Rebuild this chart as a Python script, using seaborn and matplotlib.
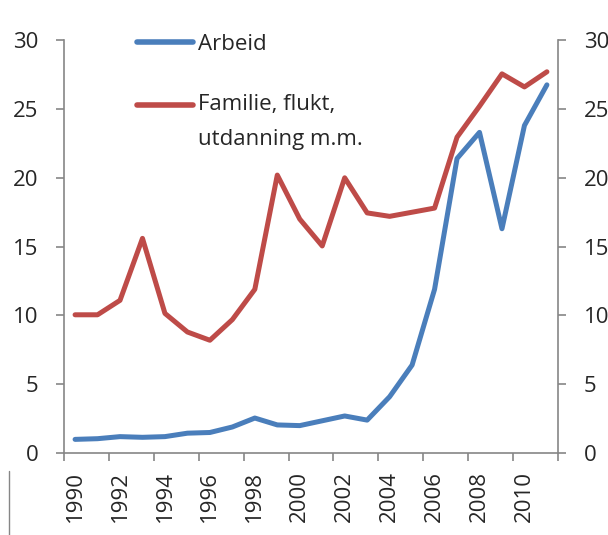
import matplotlib
matplotlib.use('Agg')
import matplotlib.pyplot as plt
import matplotlib.lines as mlines
import pandas as pd
import seaborn as sns

years = list(range(1990, 2012))
arbeid = [1.0, 1.05, 1.2, 1.15, 1.2, 1.45, 1.5, 1.9, 2.55, 2.05, 2.0, 2.35,
          2.7, 2.4, 4.1, 6.4, 11.9, 21.4, 23.3, 16.3, 23.8, 26.75]
familie = [10.05, 10.05, 11.1, 15.6, 10.15, 8.8, 8.2, 9.7, 11.9, 20.2, 17.0, 15.05,
           20.0, 17.45, 17.2, 17.5, 17.8, 22.95, 25.2, 27.55, 26.6, 27.7]
labels = ['Arbeid', 'Familie, flukt,\nutdanning m.m.']
yticks = [0, 5, 10, 15, 20, 25, 30]

df = pd.DataFrame({'year': years, labels[0]: arbeid, labels[1]: familie})

sns.set_style('white')
plt.rcParams['font.family'] = ['Open Sans', 'DejaVu Sans']

fig = plt.figure(figsize=(6.08, 5.35), dpi=100)
ax = fig.add_axes([0.105, 0.153, 0.813, 0.772])

sns.lineplot(data=df, x='year', y=labels[0], color='#4A7EBB', linewidth=3.6, ax=ax, label=labels[0])
sns.lineplot(data=df, x='year', y=labels[1], color='#BE4B48', linewidth=3.6, ax=ax, label=labels[1])

ax.set_xlim(1989.5, 2011.5)
ax.set_ylim(0, 30)
ax.set_xlabel('')
ax.set_ylabel('')
ax.set_yticks(yticks)
ax.set_xticks(years[::2])
ax.set_xticklabels([str(y) for y in years[::2]], rotation=90)
ax.set_xticks([y - 0.5 for y in years[::2]] + [2011.5], minor=True)
ax.tick_params(axis='x', which='major', length=0, pad=13, labelsize=16)
ax.tick_params(axis='x', which='minor', length=6, width=1.2, color='#868686', direction='out', bottom=True)
ax.tick_params(axis='y', length=5.5, width=1.2, color='#868686', direction='out', left=True, labelsize=16, pad=13)

for s in ['top', 'right']:
    ax.spines[s].set_visible(False)
for s in ['left', 'bottom']:
    ax.spines[s].set_color('#868686')
    ax.spines[s].set_linewidth(1.2)

ax2 = ax.twinx()
ax2.set_ylim(0, 30)
ax2.set_yticks(yticks)
ax2.tick_params(axis='y', length=5.5, width=1.2, color='#868686', direction='out', right=True, labelsize=16, pad=13)
for s in ['top', 'left', 'bottom']:
    ax2.spines[s].set_visible(False)
ax2.spines['right'].set_color('#868686')
ax2.spines['right'].set_linewidth(1.2)

leg = ax.legend(loc='upper left', bbox_to_anchor=(0.148, 1.016), frameon=False, fontsize=16,
                handlelength=2.5, handletextpad=0.25, labelspacing=1.78,
                borderpad=0, borderaxespad=0)
for t in leg.get_texts():
    t.set_linespacing(1.88)
for h in leg.get_lines():
    h.set_linewidth(4)
# put the red handle level with the first line of its two-line label
red = leg.get_lines()[1]
red.set_ydata(red.get_ydata() + 12.6)

fig.add_artist(mlines.Line2D([0.014, 0.014], [0.0, 0.12], color='#868686', linewidth=1))

fig.savefig('out.png', dpi=100)
